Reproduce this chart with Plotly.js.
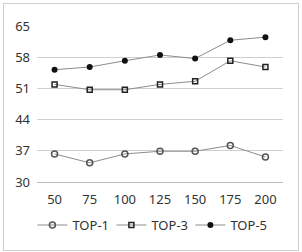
<!DOCTYPE html>
<html>
<head>
<meta charset="utf-8">
<script src="https://cdn.plot.ly/plotly-3.0.1.min.js"></script>
<style>
  html, body { margin: 0; padding: 0; background: #fff; }
  #wrap { position: relative; width: 302px; height: 252px; }
  #chart { position: absolute; left: 0; top: 0; width: 302px; height: 252px; }
  #frame { position: absolute; left: 3px; top: 3px; width: 294px; height: 246px;
           border: 1px solid #cfcfcf; pointer-events: none; }
</style>
</head>
<body>
<div id="wrap">
  <div id="chart"></div>
  <div id="frame"></div>
</div>
<script>
// Sample sizes along the x axis
const categories = ['50', '75', '100', '125', '150', '175', '200'];
// Accuracy per series
const top1 = [36.3, 34.3, 36.3, 36.9, 36.9, 38.2, 35.6];
const top3 = [51.9, 50.7, 50.7, 51.9, 52.6, 57.2, 55.8];
const top5 = [55.2, 55.8, 57.2, 58.5, 57.7, 61.8, 62.5];
const yTicks = [30, 37, 44, 51, 58, 65];

const lineStyle = { color: '#8c8c8c', width: 1 };

const traces = [
  { name: 'TOP-1', x: categories, y: top1, mode: 'lines+markers', line: lineStyle,
    marker: { symbol: 'circle-open', size: 6, color: '#555', line: { width: 1.5, color: '#555' } } },
  { name: 'TOP-3', x: categories, y: top3, mode: 'lines+markers', line: lineStyle,
    marker: { symbol: 'square-open', size: 5, color: '#222', line: { width: 1.5, color: '#222' } } },
  { name: 'TOP-5', x: categories, y: top5, mode: 'lines+markers', line: lineStyle,
    marker: { symbol: 'circle', size: 6, color: '#111' } }
];

const layout = {
  width: 302, height: 252,
  margin: { l: 37, r: 19, t: 26, b: 70 },
  paper_bgcolor: '#fff', plot_bgcolor: '#fff',
  font: { family: 'Noto Sans, DejaVu Sans, sans-serif', size: 13, color: '#333' },
  showlegend: true,
  legend: { orientation: 'h', x: 0.463, xanchor: 'center', y: -0.276, yanchor: 'middle',
            bgcolor: 'rgba(0,0,0,0)',
            font: { size: 13, color: '#333' }, entrywidth: 34, entrywidthmode: 'pixels',
            itemwidth: 30, tracegroupgap: 0 },
  xaxis: { type: 'category', range: [-0.5, 6.5], showgrid: false, zeroline: false,
           showline: true, linecolor: '#bdbdbd', linewidth: 1, ticks: '',
           ticklabelstandoff: 5, tickfont: { size: 13, color: '#333' } },
  yaxis: { range: [30, 65], tickvals: yTicks, showgrid: true, gridcolor: '#cfcfcf',
           gridwidth: 1, zeroline: false, showline: false, ticks: '',
           ticklabelstandoff: 6, tickfont: { size: 13, color: '#333' } }
};

Plotly.newPlot('chart', traces, layout, { displayModeBar: false, staticPlot: true });
</script>
</body>
</html>
